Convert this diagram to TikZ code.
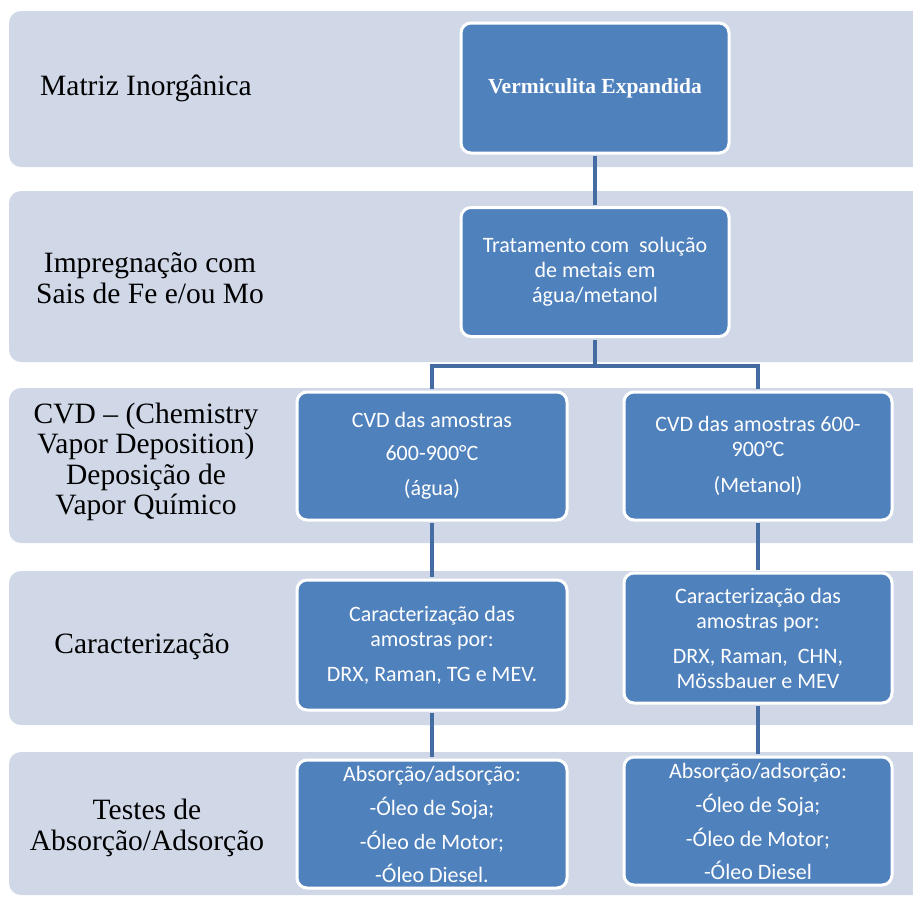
\documentclass[tikz,border=0pt]{standalone}
\usepackage{fontspec}
\setmainfont{Liberation Serif}
\newfontfamily\caixafont{Carlito}
\usepackage{tikz}
\usetikzlibrary{positioning}

\definecolor{faixa}{RGB}{208,216,232}
\definecolor{caixaazul}{RGB}{79,129,189}
\definecolor{linha}{RGB}{68,108,163}

\begin{document}
\begin{tikzpicture}[x=1pt,y=-1pt,
    caixa/.style={draw=white,line width=3pt,fill=caixaazul,rounded corners=10pt,text=white,align=center,
        minimum width=268pt,minimum height=129pt,inner sep=0pt,font=\caixafont\fontsize{22}{25}\selectfont},
    rotulo/.style={align=center,font=\fontsize{29.5}{30.5}\selectfont},
    liga/.style={draw=linha,line width=4.5pt,shorten <=1.5pt,shorten >=1.5pt}]
    \useasboundingbox (0,0) rectangle (913,898);
    \clip (0,0) rectangle (913,898);

    % faixas de fundo
    \fill[faixa,rounded corners=12pt] (9,11) rectangle (930,167);
    \fill[faixa,rounded corners=12pt] (9,191) rectangle (930,362);
    \fill[faixa,rounded corners=12pt] (9,388) rectangle (930,543);
    \fill[faixa,rounded corners=12pt] (9,571) rectangle (930,725);
    \fill[faixa,rounded corners=12pt] (9,752) rectangle (930,895);

    % etapas
    \node[rotulo] (matriz) at (146,88) {Matriz Inorgânica};
    \node[rotulo] (impreg) at (150,278) {Impregnação com\\Sais de Fe e/ou Mo};
    \node[rotulo] (cvd) at (146,462) {CVD – (Chemistry\\Vapor Deposition)\\Deposição de\\Vapor Químico};
    \node[rotulo] (caract) at (142,647) {Caracterização};
    \node[rotulo] (testes) at (147,828) {Testes de\\Absorção/Adsorção};

    % caixas
    \node[caixa,minimum height=130pt,font=\fontsize{21.5}{24}\selectfont\bfseries] (verm) at (595,88) {Vermiculita Expandida};
    \node[caixa] (trat) at (595,272) {Tratamento com\ \ solução\\de metais em\\água/metanol};

    \node[caixa,minimum width=270pt,minimum height=128pt] (cvdA) at (432,456) {CVD das amostras\\[8pt]600-900°C\\[10pt](água)};
    \node[caixa,minimum height=128pt] (cvdB) at (758,456) {CVD das amostras 600-\\900°C\\[11pt](Metanol)};

    \node[caixa,minimum width=270pt,minimum height=130pt] (carA) at (432,645) {Caracterização das\\amostras por:\\[10pt]DRX, Raman, TG e MEV.};
    \node[caixa,minimum height=130pt] (carB) at (758,638) {Caracterização das\\amostras por:\\[10pt]DRX, Raman,\ \ CHN,\\Mössbauer e MEV};

    \node[caixa,minimum width=270pt,minimum height=128pt] (absA) at (432,824) {Absorção/adsorção:\\[9pt]-Óleo de Soja;\\[9pt]-Óleo de Motor;\\[8pt]-Óleo Diesel.};
    \node[caixa,minimum height=128pt] (absB) at (758,821) {Absorção/adsorção:\\[9pt]-Óleo de Soja;\\[9pt]-Óleo de Motor;\\[8pt]-Óleo Diesel};

    % ligacoes
    \coordinate (ramo) at (595,366);
    \draw[liga] (verm) -- (trat);
    \draw[liga] (trat) -- (ramo);
    \draw[liga] (cvdA.north) |- (ramo) -| (cvdB.north);
    \draw[liga] (cvdA) -- (carA);
    \draw[liga] (cvdB) -- (carB);
    \draw[liga] (carA) -- (absA);
    \draw[liga] (carB) -- (absB);
\end{tikzpicture}
\end{document}
